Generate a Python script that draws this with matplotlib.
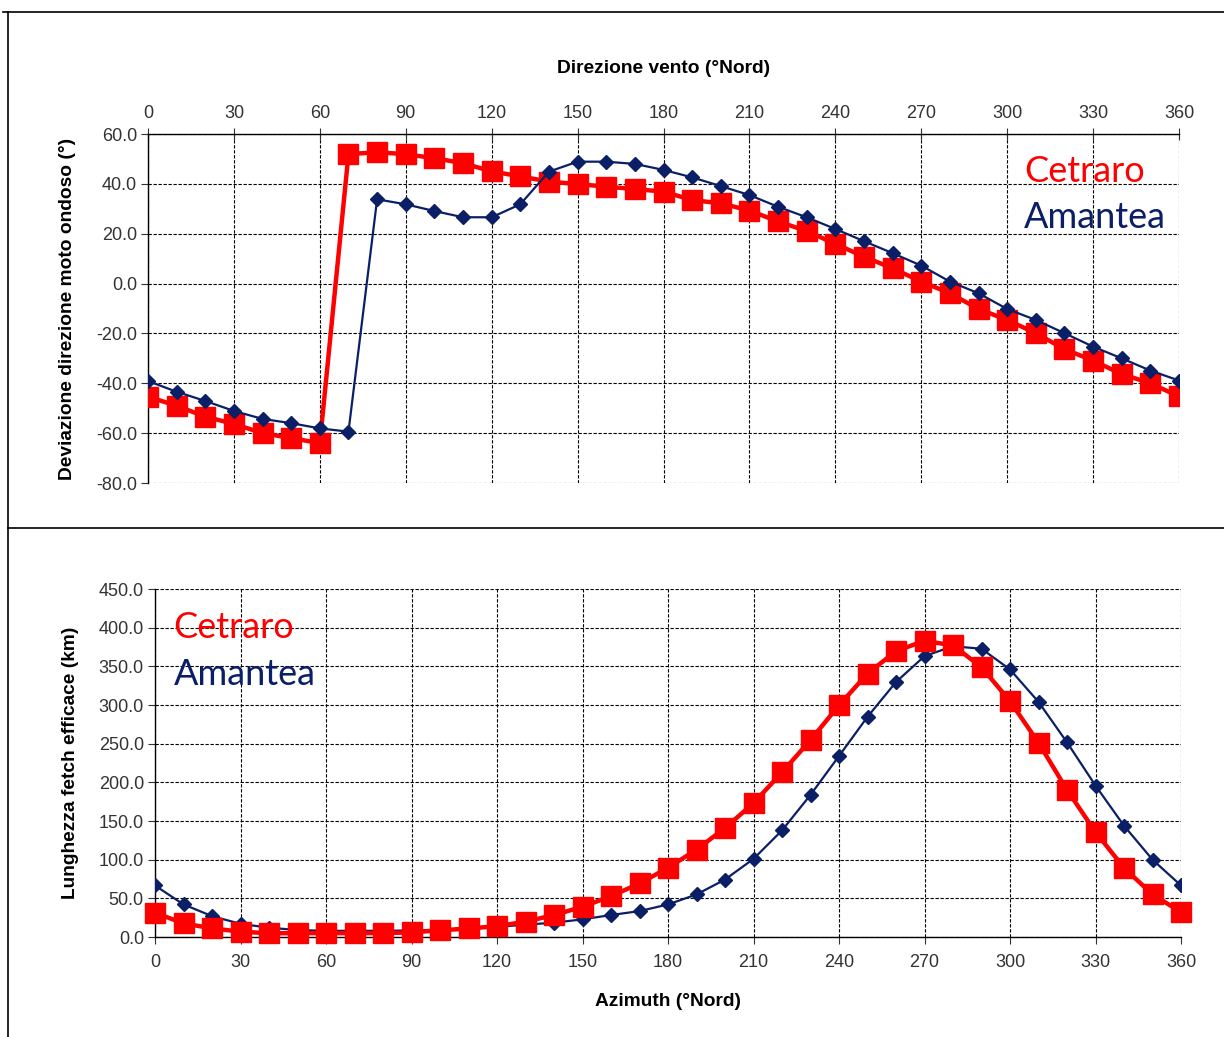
import matplotlib
matplotlib.use("Agg")
import matplotlib.pyplot as plt
from matplotlib.lines import Line2D

plt.rcParams['font.family'] = ['Liberation Sans', 'DejaVu Sans']

directions = list(range(0, 361, 10))

# Top chart: deviazione direzione moto ondoso (deg)
dev_cetraro = [-45.4, -49.0, -53.4, -56.3, -60.0, -62.0, -64.0, 51.9, 52.7, 51.9,
               50.3, 48.3, 45.0, 43.0, 40.9, 39.9, 38.9, 37.9, 36.9, 33.5,
               32.2, 29.3, 24.9, 21.1, 15.9, 10.8, 6.1, 0.8, -3.9, -10.2,
               -14.6, -19.9, -26.3, -30.9, -36.3, -40.0, -45.3]
dev_amantea = [-39.1, -43.4, -47.1, -51.1, -54.3, -56.0, -58.1, -59.4, 33.8, 31.8,
               29.1, 26.6, 26.6, 31.8, 44.9, 48.9, 48.9, 48.0, 45.6, 42.6,
               39.1, 35.5, 30.8, 26.6, 21.9, 17.0, 12.2, 7.2, 0.8, -3.9,
               -10.2, -14.6, -19.9, -25.3, -30.0, -34.9, -38.9]

# Bottom chart: lunghezza fetch efficace (km)
fetch_cetraro = [31.4, 17.6, 11.2, 6.9, 4.8, 5.0, 5.0, 5.0, 5.0, 6.0,
                 8.6, 11.0, 14.0, 19.8, 28.4, 39.1, 52.8, 69.2, 89.4, 113.0,
                 140.9, 173.1, 213.0, 254.6, 299.7, 340.5, 369.7, 383.0, 377.0, 349.0,
                 304.9, 251.2, 190.2, 135.7, 89.4, 55.0, 32.2]
fetch_amantea = [66.6, 42.1, 27.0, 17.0, 12.0, 9.0, 8.0, 8.0, 8.0, 8.5,
                 9.5, 11.0, 13.0, 16.0, 18.5, 22.8, 28.4, 33.5, 42.1, 55.0,
                 74.3, 101.0, 137.8, 183.8, 234.0, 284.7, 329.7, 363.2, 376.0, 372.7,
                 346.0, 304.0, 251.7, 195.8, 143.9, 100.0, 66.6]

xticks = list(range(0, 361, 30))
yticks_top = [60, 40, 20, 0, -20, -40, -60, -80]
yticks_bot = [0, 50, 100, 150, 200, 250, 300, 350, 400, 450]

RED = '#FF0000'
NAVY = '#0B1F66'
TICKC = '#333333'
TICKSIZE = 13
LABSIZE = 13.8
LEGSIZE = 26

fig = plt.figure(figsize=(12.24, 10.37), dpi=100)

# frame lines
fig.add_artist(Line2D([0.0025, 1.0], [1 - 12/1037, 1 - 12/1037], color='black', lw=1.2, transform=fig.transFigure))
fig.add_artist(Line2D([8/1224, 8/1224], [1 - 12/1037, 0.0], color='black', lw=1.2, transform=fig.transFigure))
fig.add_artist(Line2D([8/1224, 1.0], [1 - 528/1037, 1 - 528/1037], color='black', lw=1.2, transform=fig.transFigure))

grid_kw = dict(color='black', linestyle=(0, (3, 1.5)), linewidth=0.8)

# ---- Top axes ----
ax1 = fig.add_axes([148/1224, 1 - 483/1037, (1179 - 148)/1224, (483 - 134)/1037])
ax1.plot(directions, dev_amantea, color=NAVY, lw=1.6, marker='D', markersize=7,
         markerfacecolor=NAVY, markeredgecolor=NAVY, zorder=4)
ax1.plot(directions, dev_cetraro, color=RED, lw=3.2, marker='s', markersize=14,
         markerfacecolor=RED, markeredgecolor=RED, zorder=3)
ax1.set_xlim(0, 360)
ax1.set_ylim(-80, 60)
ax1.set_xticks(xticks)
ax1.set_yticks(yticks_top)
ax1.set_yticklabels([f"{v:.1f}" for v in yticks_top])
ax1.xaxis.tick_top()
ax1.xaxis.set_label_position('top')
ax1.tick_params(axis='x', direction='inout', length=8, labelsize=TICKSIZE, colors=TICKC, pad=5)
ax1.tick_params(axis='y', direction='out', length=5, labelsize=TICKSIZE, colors=TICKC, pad=3)
ax1.grid(True, **grid_kw)
ax1.spines['bottom'].set_visible(False)
ax1.spines['right'].set_visible(False)
for s in ['top', 'left']:
    ax1.spines[s].set_color('black')
    ax1.spines[s].set_linewidth(1.0)
ax1.set_xlabel('Direzione vento (°Nord)', fontsize=LABSIZE, fontweight='bold', labelpad=23)
ax1.set_ylabel('Deviazione direzione moto ondoso (°)', fontsize=LABSIZE, fontweight='bold', labelpad=14)
ax1.text(0.85, 0.893, 'Cetraro', transform=ax1.transAxes, color=RED, fontsize=LEGSIZE,
         family=['Lato', 'DejaVu Sans'], va='center', ha='left')
ax1.text(0.85, 0.76, 'Amantea', transform=ax1.transAxes, color=NAVY, fontsize=LEGSIZE,
         family=['Lato', 'DejaVu Sans'], va='center', ha='left')

# ---- Bottom axes ----
ax2 = fig.add_axes([155/1224, 1 - 937/1037, (1181 - 155)/1224, (937 - 589)/1037])
ax2.plot(directions, fetch_amantea, color=NAVY, lw=1.6, marker='D', markersize=7,
         markerfacecolor=NAVY, markeredgecolor=NAVY, zorder=3)
ax2.plot(directions, fetch_cetraro, color=RED, lw=3.2, marker='s', markersize=14,
         markerfacecolor=RED, markeredgecolor=RED, zorder=4, clip_on=False)
ax2.set_xlim(0, 360)
ax2.set_ylim(0, 450)
ax2.set_xticks(xticks)
ax2.set_yticks(yticks_bot)
ax2.set_yticklabels([f"{v:.1f}" for v in yticks_bot])
ax2.tick_params(axis='x', direction='out', length=5, labelsize=TICKSIZE, colors=TICKC, pad=7)
ax2.tick_params(axis='y', direction='out', length=5, labelsize=TICKSIZE, colors=TICKC, pad=3)
ax2.grid(True, **grid_kw)
ax2.spines['top'].set_visible(False)
ax2.spines['right'].set_visible(False)
for s in ['bottom', 'left']:
    ax2.spines[s].set_color('black')
    ax2.spines[s].set_linewidth(1.0)
ax2.set_xlabel('Azimuth (°Nord)', fontsize=LABSIZE, fontweight='bold', labelpad=16)
ax2.set_ylabel('Lunghezza fetch efficace (km)', fontsize=LABSIZE, fontweight='bold', labelpad=14)
ax2.text(0.018, 0.89, 'Cetraro', transform=ax2.transAxes, color=RED, fontsize=LEGSIZE,
         family=['Lato', 'DejaVu Sans'], va='center', ha='left')
ax2.text(0.018, 0.755, 'Amantea', transform=ax2.transAxes, color=NAVY, fontsize=LEGSIZE,
         family=['Lato', 'DejaVu Sans'], va='center', ha='left')

fig.savefig('out.png', dpi=100)
